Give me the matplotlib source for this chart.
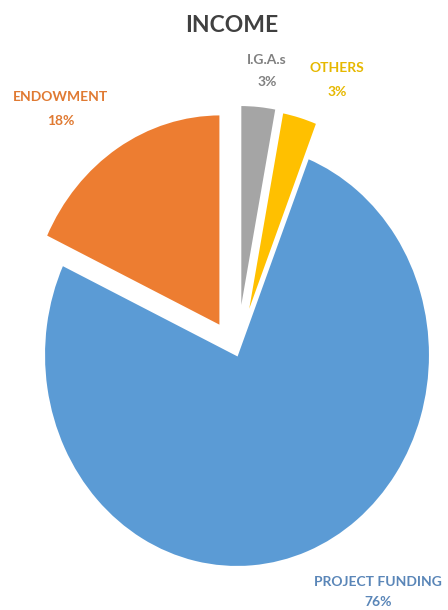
import matplotlib.pyplot as plt

# data
labels = ["I.G.A.s", "OTHERS", "PROJECT FUNDING", "ENDOWMENT"]
shares = [3, 3, 76, 18]
colors = ["#A5A5A5", "#FFC000", "#5B9BD5", "#ED7D31"]
label_colors = ["#808080", "#E6B800", "#5A86B8", "#E07A32"]
explode = [0.18, 0.17, 0.0, 0.16]

W, H = 448, 610
cx, cy = 237, 355      # pie centre in pixels (from top-left)
rx, ry = 193, 212      # the pie is stretched vertically

fig = plt.figure(figsize=(W / 100, H / 100), dpi=100)
ax = fig.add_axes([0, 0, 1, 1])

ax.pie(shares, colors=colors, explode=explode, startangle=90,
       counterclock=False, radius=1,
       wedgeprops=dict(edgecolor="white", linewidth=1.5))

ax.set_aspect("auto")
ax.set_xlim(-cx / rx, (W - cx) / rx)
ax.set_ylim(-(H - cy) / ry, cy / ry)
ax.axis("off")


def px(x, y):
    # pixel position -> data coords
    return (x - cx) / rx, (cy - y) / ry


ax.text(*px(232, 25), "INCOME", ha="center", va="center",
        fontsize=16.5, fontweight="bold", color="#404040", family="Lato")

# label positions (pixels): name line, value line
label_pos = [(267, 60, 82), (337, 68, 92), (378, 582, 602), (61, 97, 121)]
for lab, val, col, (x, y1, y2) in zip(labels, shares, label_colors, label_pos):
    ax.text(*px(x, y1), lab, ha="center", va="center", fontsize=10,
            fontweight="bold", color=col, family="Lato")
    ax.text(*px(x, y2), f"{val}%", ha="center", va="center", fontsize=10,
            fontweight="bold", color=col, family="Lato")

fig.savefig("out.png", dpi=100)
